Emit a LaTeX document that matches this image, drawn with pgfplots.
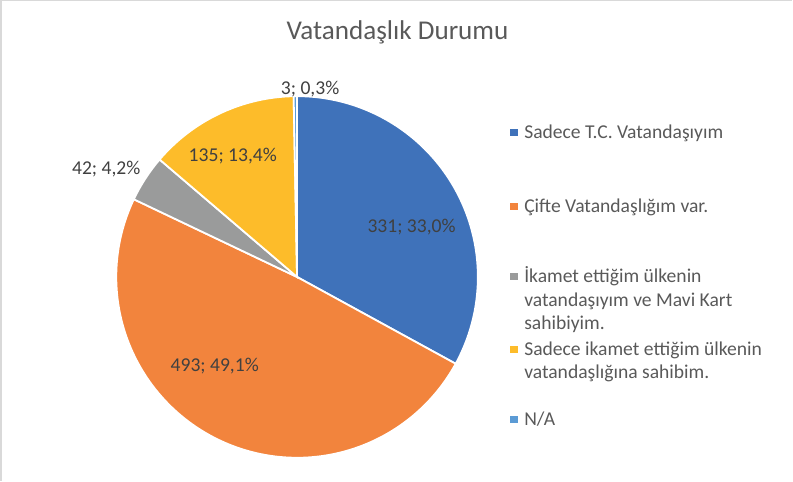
\documentclass[border=0pt]{standalone}
\usepackage{pgfplots}
\pgfplotsset{compat=1.18}
\usepackage{fontspec}
\setmainfont{Carlito}
\definecolor{cA}{HTML}{3F72BA}
\definecolor{cB}{HTML}{F2843D}
\definecolor{cC}{HTML}{9A9B9B}
\definecolor{cD}{HTML}{FDBC2A}
\definecolor{cE}{HTML}{5B9BD5}
\definecolor{txt}{HTML}{595959}
\definecolor{labtxt}{HTML}{404040}
\definecolor{frame}{HTML}{D9D9D9}
% values
\def\vA{331}\def\vB{493}\def\vC{42}\def\vD{135}\def\vE{3}
\pgfmathsetmacro\tot{\vA+\vB+\vC+\vD+\vE}
\pgfmathsetmacro\aA{90}
\pgfmathsetmacro\aB{\aA-\vA/\tot*360}
\pgfmathsetmacro\aC{\aB-\vB/\tot*360}
\pgfmathsetmacro\aD{\aC-\vC/\tot*360}
\pgfmathsetmacro\aE{\aD-\vD/\tot*360}
\pgfmathsetmacro\aF{\aE-\vE/\tot*360}
\newcommand\cx{300}
\newcommand\cy{203}
\newcommand\R{180}
\newcommand\slice[3]{%
  \addplot[draw=white, line width=1.8bp, fill=#3, domain=#2:#1, samples=120, variable=\t]
    ({\cx+\R*cos(\t)},{\cy+\R*sin(\t)}) -- (axis cs:\cx,\cy) -- cycle;}
\newcommand\lgfont{\fontsize{19.5bp}{23bp}\selectfont}
\newcommand\labfont{\fontsize{19.5bp}{23bp}\selectfont}
\newcommand\key[1]{\textcolor{#1}{\rule[2.5bp]{8bp}{7bp}}\hspace{6bp}}
\begin{document}
\begin{tikzpicture}
\begin{axis}[scale only axis, width=793bp, height=481bp,
  xmin=0, xmax=793, ymin=0, ymax=481, axis lines=none, clip=false]
\slice{\aA}{\aB}{cA}
\slice{\aB}{\aC}{cB}
\slice{\aC}{\aD}{cC}
\slice{\aD}{\aE}{cD}
\slice{\aE}{\aF}{cE}
% frame
\draw[frame, line width=1.5bp] (axis cs:5,0) -- (axis cs:5,478) -- (axis cs:793,478);
% title
\node[font=\fontsize{27bp}{32bp}\selectfont, text=txt] at (axis cs:400,447) {Vatandaşlık Durumu};
% data labels
\node[font=\labfont, text=labtxt] at (axis cs:414,253) {331; 33,0\%};
\node[font=\labfont, text=labtxt] at (axis cs:218,114) {493; 49,1\%};
\node[font=\labfont, text=labtxt] at (axis cs:110,310) {42; 4,2\%};
\node[font=\labfont, text=labtxt] at (axis cs:236,323) {135; 13,4\%};
\node[font=\labfont, text=labtxt] at (axis cs:313,390.5) {3; 0,3\%};
% legend
\begin{scope}[every node/.style={anchor=base west, font=\lgfont, text=txt, inner sep=0}]
\node at (axis cs:512,340.5) {\key{cA}Sadece T.C. Vatandaşıyım};
\node at (axis cs:512,267) {\key{cB}Çifte Vatandaşlığım var.};
\node at (axis cs:512,197) {\key{cC}İkamet ettiğim ülkenin};
\node at (axis cs:526,174) {vatandaşıyım ve Mavi Kart};
\node at (axis cs:526,151) {sahibiyim.};
\node at (axis cs:512,125) {\key{cD}Sadece ikamet ettiğim ülkenin};
\node at (axis cs:526,102) {vatandaşlığına sahibim.};
\node at (axis cs:512,55) {\key{cE}N/A};
\end{scope}
\end{axis}
\end{tikzpicture}
\end{document}
